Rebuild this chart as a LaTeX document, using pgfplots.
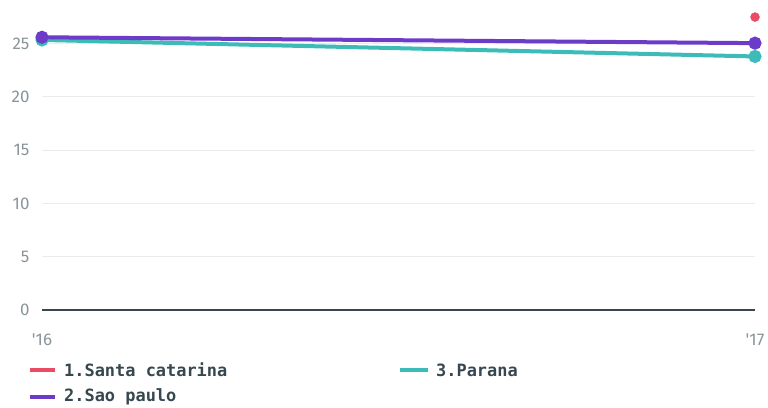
\documentclass[border=0pt]{standalone}
\usepackage{pgfplots}
\pgfplotsset{compat=1.18}
\usepackage{fontspec}
\setmainfont{Fira Sans}
\newfontfamily\legfont{DejaVu Sans Mono}
\definecolor{cred}{HTML}{EC4B65}
\definecolor{cpurple}{HTML}{6C3BC8}
\definecolor{cteal}{HTML}{3DBBB9}
\definecolor{ctext}{HTML}{37474F}
\definecolor{cgray}{HTML}{8A9499}
\definecolor{cgrid}{HTML}{EBEBEB}
\begin{document}
\begin{tikzpicture}
\useasboundingbox (0bp,0bp) rectangle (768bp,408bp);
\begin{axis}[
  at={(42bp,98bp)}, anchor=south west,
  scale only axis, width=713bp, height=310bp,
  xmin=0, xmax=1, ymin=0, ymax=29.1,
  clip=false,
  axis line style={draw=none},
  major tick length=0pt,
  xtick={0,1}, xticklabels={\textquotesingle16,\textquotesingle17},
  ytick={5,10,15,20,25},
  extra y ticks={0},
  extra y tick style={grid style={draw=ctext, line width=2.5bp}},
  ymajorgrids, grid style={draw=cgrid, line width=1bp},
  tick label style={font=\fontsize{17}{17}\selectfont, text=cgray},
  /pgf/number format/assume math mode=true,
  yticklabel style={xshift=-9bp},
  xticklabel style={yshift=-20bp},
]
\addplot[cteal, line width=4bp, mark=*, mark size=4.5bp, mark options={fill=cteal, draw=cteal}] coordinates {(0,25.35) (1,23.8)};
\addplot[cpurple, line width=4bp, mark=*, mark size=4.5bp, mark options={fill=cpurple, draw=cpurple}] coordinates {(0,25.6) (1,25.05)};
\addplot[cred, only marks, mark=*, mark size=4.5bp, mark options={fill=cred, draw=cred}] coordinates {(1,27.5)};
\end{axis}
\draw[cred, line width=4bp] (30bp,38bp) -- (55bp,38bp);
\node[anchor=west, inner sep=0, text=ctext, font=\legfont\bfseries\fontsize{17}{17}\selectfont] at (64bp,38bp) {1.Santa catarina};
\draw[cteal, line width=4bp] (400bp,38bp) -- (428bp,38bp);
\node[anchor=west, inner sep=0, text=ctext, font=\legfont\bfseries\fontsize{17}{17}\selectfont] at (436bp,38bp) {3.Parana};
\draw[cpurple, line width=4bp] (30bp,11bp) -- (55bp,11bp);
\node[anchor=west, inner sep=0, text=ctext, font=\legfont\bfseries\fontsize{17}{17}\selectfont] at (64bp,11bp) {2.Sao paulo};
\end{tikzpicture}
\end{document}
